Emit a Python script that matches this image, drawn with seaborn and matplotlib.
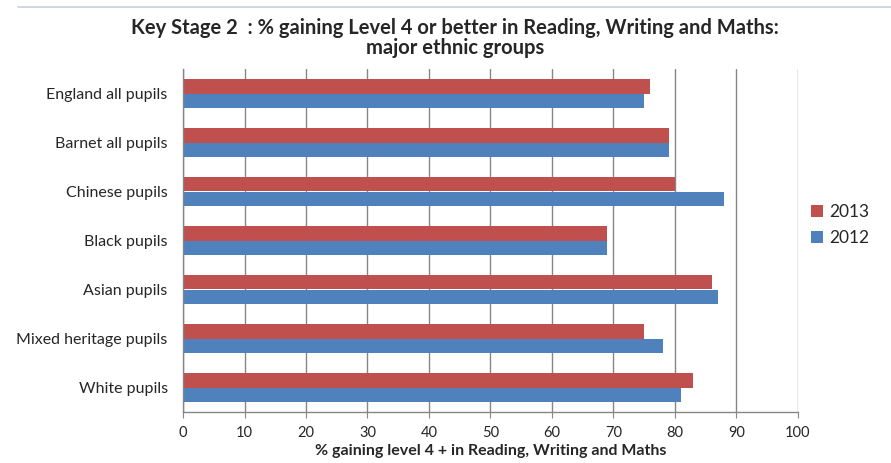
import matplotlib
matplotlib.use("Agg")
import matplotlib.pyplot as plt
import seaborn as sns
import pandas as pd

categories = ["England all pupils", "Barnet all pupils", "Chinese pupils", "Black pupils",
              "Asian pupils", "Mixed heritage pupils", "White pupils"]
values_2013 = [76, 79, 80, 69, 86, 75, 83]
values_2012 = [75, 79, 88, 69, 87, 78, 81]
years = ["2013", "2012"]
x_ticks = [0, 10, 20, 30, 40, 50, 60, 70, 80, 90, 100]

df = pd.DataFrame({
    "group": categories * 2,
    "value": values_2013 + values_2012,
    "year": [years[0]] * len(categories) + [years[1]] * len(categories),
})

sns.set_style("white")
plt.rcParams['font.family'] = ['Lato', 'DejaVu Sans']

fig = plt.figure(figsize=(8.91, 4.63), dpi=100)
ax = fig.add_axes([183/891, 1 - 412/463, (798-183)/891, (412-69)/463])

palette = {"2013": "#C0504D", "2012": "#4F81BD"}
sns.barplot(data=df, y="group", x="value", hue="year", hue_order=years, order=categories,
            palette=palette, width=0.58, ax=ax, saturation=1, edgecolor="none")

ax.set_xlim(0, 100)
ax.set_xticks(x_ticks)
ax.set_xticklabels([str(t) for t in x_ticks], fontsize=10.5)
ax.xaxis.grid(True, color="#868686", linewidth=1)
ax.set_axisbelow(True)
ax.set_ylabel("")
ax.set_xlabel("% gaining level 4 + in Reading, Writing and Maths", fontsize=11.5, fontweight="bold", labelpad=3)
ax.tick_params(axis="y", labelsize=11.5, length=0, pad=11)
ax.tick_params(axis="x", length=4, direction="out", color="#868686", pad=6, bottom=True)
for s in ["top", "right"]:
    ax.spines[s].set_visible(False)
for s in ["left", "bottom"]:
    ax.spines[s].set_color("#868686")
    ax.spines[s].set_linewidth(1)

leg = ax.legend(loc="center left", bbox_to_anchor=(0.995, 0.545), frameon=False, fontsize=12.5,
                handlelength=0.7, handleheight=0.7, handletextpad=0.35, labelspacing=0.55)

fig.text(0.511, 0.918, "Key Stage 2  : % gaining Level 4 or better in Reading, Writing and Maths:\nmajor ethnic groups",
         ha="center", va="center", fontsize=14.5, fontweight="bold", linespacing=1.05)

fig.add_artist(plt.Line2D([0.02, 1.0], [0.985, 0.985], color="#c8d0d8", linewidth=1.2))

fig.savefig("out.png", dpi=100)
